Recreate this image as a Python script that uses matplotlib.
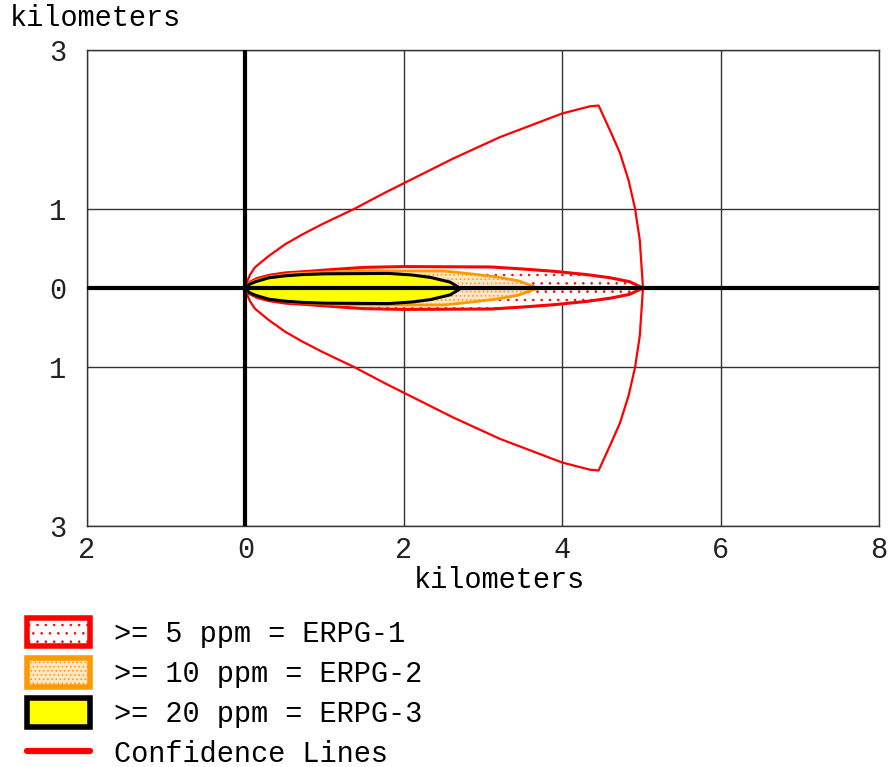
import matplotlib
matplotlib.use("Agg")
import matplotlib.pyplot as plt
from matplotlib.patches import Patch
from matplotlib.lines import Line2D

plt.rcParams['font.family'] = ['Liberation Mono', 'DejaVu Sans Mono']
plt.rcParams['hatch.linewidth'] = 0.6

# threat zone footprints: downwind distance (km) and half width (km)
erpg1_x = [0, 0.05, 0.15, 0.3, 0.5, 0.8, 1.2, 1.5, 2.0, 3.1, 3.5, 3.9, 4.3, 4.6, 4.85, 5.02]
erpg1_hw = [0, 0.07, 0.12, 0.16, 0.19, 0.21, 0.24, 0.26, 0.27, 0.265, 0.24, 0.21, 0.17, 0.13, 0.08, 0]
erpg2_x = [0, 0.05, 0.15, 0.3, 0.6, 1.0, 1.5, 2.5, 2.83, 3.17, 3.45, 3.69]
erpg2_hw = [0, 0.06, 0.1, 0.14, 0.18, 0.2, 0.215, 0.215, 0.18, 0.14, 0.09, 0]
erpg3_x = [0, 0.04, 0.12, 0.29, 0.5, 0.71, 1.0, 1.8, 2.1, 2.33, 2.58, 2.71]
erpg3_hw = [0, 0.05, 0.085, 0.135, 0.16, 0.175, 0.185, 0.19, 0.17, 0.14, 0.08, 0]

# confidence lines (upper half, mirrored below)
conf_x = [0, 0.02, 0.06, 0.12, 0.29, 0.5, 0.71, 0.96, 1.38, 1.76, 2.0, 2.62, 3.21, 4.0, 4.35, 4.46,
          4.62, 4.73, 4.84, 4.92, 4.98, 5.02]
conf_y = [0, 0.08, 0.17, 0.26, 0.40, 0.55, 0.67, 0.80, 1.0, 1.2, 1.32, 1.63, 1.90, 2.2, 2.29, 2.30,
          1.95, 1.70, 1.35, 1.0, 0.6, 0]

x_ticks = [-2, 0, 2, 4, 6, 8]
y_ticks = [-3, -1, 0, 1, 3]
labels = [">= 5 ppm = ERPG-1", ">= 10 ppm = ERPG-2", ">= 20 ppm = ERPG-3", "Confidence Lines"]

RED = '#ff0000'
ORANGE = '#ff9900'
FS = 20.6

fig = plt.figure(figsize=(8.88, 7.67), dpi=100)
ax = fig.add_axes([87/888, 1 - 526/767, 792/888, 476/767])
ax.set_xlim(-2, 8)
ax.set_ylim(-3, 3)

ax.set_xticks(x_ticks)
ax.set_xticklabels([str(abs(v)) for v in x_ticks])
ax.set_yticks(y_ticks)
ax.set_yticklabels([str(abs(v)) for v in y_ticks])
ax.tick_params(length=0, labelsize=FS, colors='#222222')
ax.tick_params(axis='x', pad=7)
ax.tick_params(axis='y', pad=15)
ax.grid(True, color='#333333', lw=1.0)
ax.set_axisbelow(True)
for s in ax.spines.values():
    s.set_linewidth(1.0)
    s.set_color('#333333')

# plumes
ax.fill_between(erpg1_x, [-h for h in erpg1_hw], erpg1_hw, facecolor='white',
                edgecolor=RED, hatch='..', lw=2.2, zorder=3)
ax.fill_between(erpg2_x, [-h for h in erpg2_hw], erpg2_hw, facecolor='#ffe6c4',
                edgecolor=ORANGE, hatch='....', lw=2, zorder=4)
ax.fill_between(erpg3_x, [-h for h in erpg3_hw], erpg3_hw, facecolor='#ffff00',
                edgecolor='black', lw=2.2, zorder=5)

# confidence lines
cx = conf_x + conf_x[::-1]
cy = conf_y + [-v for v in conf_y[::-1]]
ax.plot(cx, cy, color=RED, lw=1.6, zorder=6)

# zero axes
ax.axhline(0, color='black', lw=3, zorder=7)
ax.axvline(0, color='black', lw=3, zorder=7)

ax.set_xlabel('kilometers', fontsize=FS)
ax.xaxis.set_label_coords(0.521, -0.083)
ax.set_ylabel('kilometers', fontsize=FS, rotation=0, ha='left', va='top')
ax.yaxis.set_label_coords(-0.097, 1.097)

handles = [
    Patch(facecolor='white', edgecolor=RED, hatch='..', lw=4, joinstyle='round'),
    Patch(facecolor='#ffe6c4', edgecolor=ORANGE, hatch='....', lw=4, joinstyle='round'),
    Patch(facecolor='#ffff00', edgecolor='black', lw=4, joinstyle='round'),
    Line2D([], [], color=RED, lw=4.5, solid_capstyle='round'),
]
fig.legend(handles, labels, loc='upper left', bbox_to_anchor=(27/888, 1 - 618/767),
           frameon=False, borderpad=0, borderaxespad=0, handlelength=2.2,
           handleheight=1.15, handletextpad=0.85, labelspacing=0.36, fontsize=FS)

fig.savefig('out.png', dpi=100)
